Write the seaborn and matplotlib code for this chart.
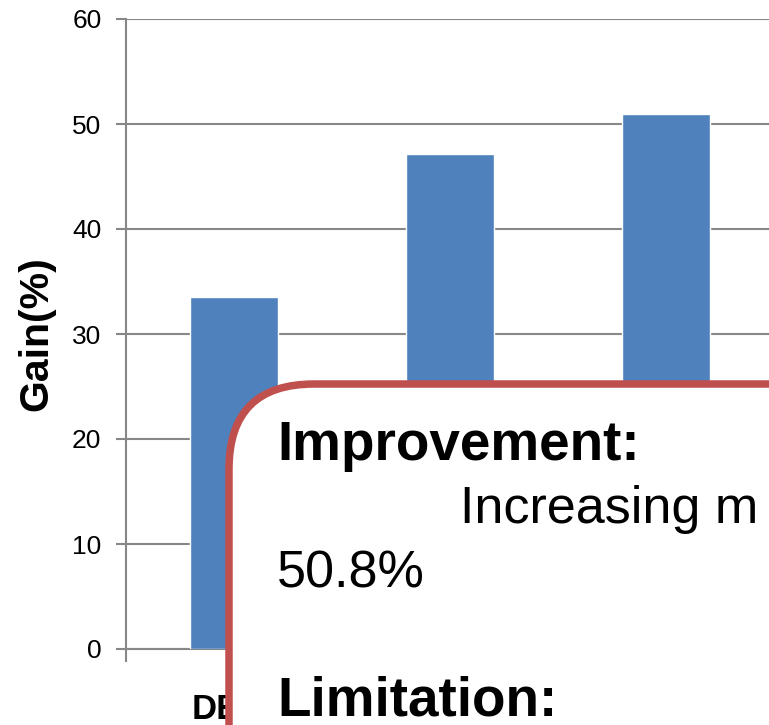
import matplotlib
matplotlib.use("Agg")
import matplotlib.pyplot as plt
import matplotlib.patches as mpatches
from matplotlib.transforms import IdentityTransform
from matplotlib.ticker import FixedLocator
import seaborn as sns
import pandas as pd

categories = ["DE-A", "DE-B", "DE-C"]
gains = [33.5, 47.1, 51.0]
y_ticks = [0, 10, 20, 30, 40, 50, 60]

sns.set_theme(style="white")
plt.rcParams["font.family"] = ["Liberation Sans", "DejaVu Sans"]
plt.rcParams["text.color"] = "black"
plt.rcParams["axes.labelcolor"] = "black"
plt.rcParams["xtick.labelcolor"] = "black"
plt.rcParams["ytick.labelcolor"] = "black"

W, H = 769, 725
DPI = 100
fig = plt.figure(figsize=(W / DPI, H / DPI), dpi=DPI)
ax = fig.add_axes([126 / W, (H - 649) / H, 648 / W, 630 / H])

df = pd.DataFrame({"cat": categories, "gain": gains})
sns.barplot(data=df, x="cat", y="gain", color="#4F81BD", saturation=1,
            width=0.407, ax=ax, zorder=3)

grey = "#878787"
ax.set_ylim(0, 60)
ax.set_xlim(-0.5, len(categories) - 0.5)
ax.set_yticks(y_ticks)
ax.set_yticklabels([str(t) for t in y_ticks])
ax.yaxis.grid(True, color=grey, linewidth=1.5, zorder=0)
ax.set_axisbelow(True)
for s in ["top", "right"]:
    ax.spines[s].set_visible(False)
for s in ["left", "bottom"]:
    ax.spines[s].set_color(grey)
    ax.spines[s].set_linewidth(1.5)

ax.tick_params(axis="y", which="major", length=7.2, width=1.5, color=grey,
               pad=10.5, labelsize=19, labelcolor="black", left=True)
ax.tick_params(axis="x", which="major", length=0, pad=32, labelsize=25,
               labelcolor="black")
ax.xaxis.set_minor_locator(FixedLocator([i - 0.5 for i in range(len(categories) + 1)]))
ax.tick_params(axis="x", which="minor", length=9.5, width=1.5, color=grey, bottom=True)
for i, lbl in enumerate(ax.get_xticklabels()):
    lbl.set_fontweight("bold")
    lbl.set_color("black")
    # labels of the later categories lie fully under the callout box
    if i > 0:
        lbl.set_visible(False)
ax.set_xlabel("")
ax.set_ylabel("Gain(%)", fontsize=29.5, fontweight="bold", labelpad=12,
              color="black")

# callout box
box = mpatches.FancyBboxPatch((229, -200), 800, (H - 384) + 200,
                              boxstyle="round,pad=0,rounding_size=85",
                              transform=IdentityTransform(),
                              facecolor="white", edgecolor="#C0504D",
                              linewidth=5.4, zorder=10)
fig.add_artist(box)

def ftext(x, y, s, size, weight="normal"):
    fig.text(x / W, (H - y) / H, s, fontsize=size, fontweight=weight,
             ha="left", va="baseline", color="black", zorder=11,
             family=["Liberation Sans", "DejaVu Sans"])

ftext(277, 460, "Improvement:", 39.5, "bold")
ftext(460, 523, "Increasing m", 37.5)
ftext(277, 587, "50.8%", 37.5)
ftext(277, 715, "Limitation:", 39.5, "bold")

fig.savefig("out.png", dpi=DPI)
